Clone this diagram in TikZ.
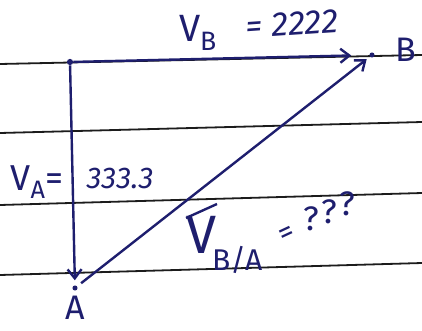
\documentclass[tikz,border=0pt]{standalone}
\usepackage{fontspec}
\setmainfont{Fira Sans}
\usetikzlibrary{arrows.meta}

\definecolor{ink}{RGB}{30,30,110}
\definecolor{rule}{RGB}{28,28,28}

\begin{document}
\begin{tikzpicture}[
    x=1pt,
    y=1pt,
    >={Straight Barb[length=9pt,width=14pt]},
    ruling/.style={line width=1.8pt,draw=rule},
    vec/.style={line width=2.4pt,draw=ink,->},
    point/.style={circle,fill=ink,inner sep=2.2pt},
    hand/.style={text=ink,inner sep=0pt}
]

% ---------------------------------------------------------
% Page and ruled lines
% ---------------------------------------------------------

\useasboundingbox[fill=white] (0,0) rectangle (422,330);

\draw[ruling] (0,266) -- (422,275);
\draw[ruling] (0,197) -- (422,208);
\draw[ruling] (0,125) -- (422,137);
\draw[ruling] (0,55)  -- (422,67);

% ---------------------------------------------------------
% Points
% ---------------------------------------------------------

\node[point] (O) at (70,268) {};

\node[point,inner sep=1.8pt] (B) at (372,275) {};
\node[hand,font=\fontsize{34}{38}\selectfont] (Blabel) at (406,280) {B};

\node[point,inner sep=1.8pt] (A) at (75,42) {};
\node[hand,font=\fontsize{34}{38}\selectfont] (Alabel) at (75,22) {A};

% ---------------------------------------------------------
% Velocity vectors
% ---------------------------------------------------------

\draw[vec,shorten >=18pt] (O) -- (B);

\draw[vec,shorten >=5pt] (O) -- (A);

\draw[vec,shorten <=5pt,shorten >=4pt] (A) -- (B);

% ---------------------------------------------------------
% Labels
% ---------------------------------------------------------

\node[hand,font=\fontsize{38}{42}\selectfont] (VB) at (198,297)
    {V\textsubscript{B}};
\node[hand,font=\itshape\fontsize{34}{38}\selectfont,rotate=4] (VBval) at (292,306)
    {= 2222};

\node[hand,font=\fontsize{36}{40}\selectfont] (VA) at (37,148)
    {V\textsubscript{A}=};
\node[hand,font=\itshape\fontsize{30}{34}\selectfont] (VAval) at (120,152)
    {333.3};

\node[hand,font=\fontsize{54}{58}\selectfont] (VBA) at (202,95)
    {V};
\node[hand,font=\fontsize{30}{34}\selectfont,anchor=west] (VBAsub) at (212,70)
    {B/A};
\draw[ink,line width=2.4pt] (186,112) -- (217,126);
\node[hand,font=\fontsize{30}{34}\selectfont,rotate=25] (VBAeq) at (287,95)
    {=};

% unknown value, written climbing
\node[hand,font=\fontsize{34}{38}\selectfont] (Q1) at (311,111) {?};
\node[hand,font=\fontsize{34}{38}\selectfont] (Q2) at (329,118) {?};
\node[hand,font=\fontsize{34}{38}\selectfont] (Q3) at (347,126) {?};

\end{tikzpicture}
\end{document}
